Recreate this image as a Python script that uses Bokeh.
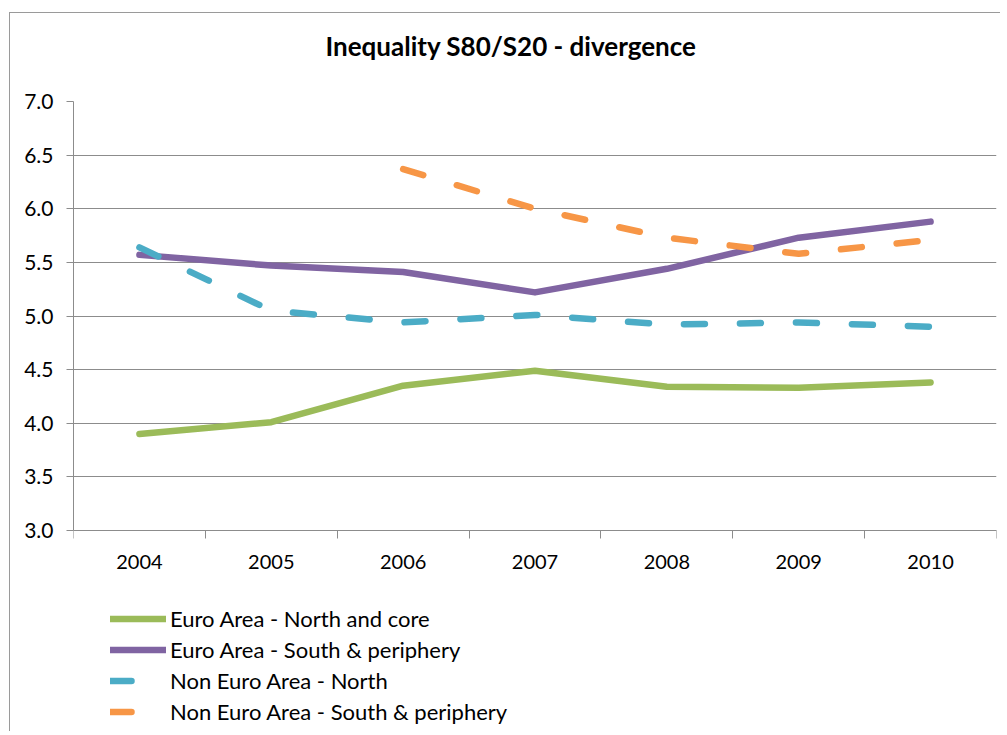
from bokeh.plotting import figure
from bokeh.models import FixedTicker, Legend, LegendItem, NumeralTickFormatter, Range1d, Title
from bokeh.embed import file_html
from bokeh.resources import INLINE

years = [2004, 2005, 2006, 2007, 2008, 2009, 2010]
north_core = [3.90, 4.01, 4.35, 4.49, 4.34, 4.33, 4.38]
south_periph = [5.57, 5.47, 5.41, 5.22, 5.44, 5.73, 5.88]
non_euro_north = [5.64, 5.05, 4.94, 5.01, 4.92, 4.94, 4.90]
non_euro_south_years = [2006, 2007, 2008, 2009, 2010]
non_euro_south = [6.37, 6.00, 5.73, 5.58, 5.71]
y_ticks = [3.0, 3.5, 4.0, 4.5, 5.0, 5.5, 6.0, 6.5, 7.0]
labels = ["Euro Area - North and core", "Euro Area - South & periphery",
          "Non Euro Area - North", "Non Euro Area - South & periphery"]

FONT = "Lato"
# layout: plotting band (3.0..7.0) is 429 px tall; the frame continues below it to hold the legend
FRAME_W, FRAME_H, BAND_H = 923, 627, 429
y_lo, y_hi = y_ticks[0], y_ticks[-1]
y_start = y_hi - FRAME_H * (y_hi - y_lo) / BAND_H

p = figure(width=990, height=718, frame_width=FRAME_W, frame_height=FRAME_H,
           output_backend="svg", toolbar_location=None,
           x_range=Range1d(years[0] - 0.5, years[-1] + 0.5), y_range=Range1d(y_start, y_hi),
           min_border_left=63, min_border_right=4, min_border_top=88, min_border_bottom=3)
p.styles = {"margin-left": "9px", "margin-top": "12px",
            "border-left": "1.5px solid #9a9a9a", "border-top": "1.5px solid #9a9a9a"}
p.outline_line_color = None

# empty spacer between the frame and the chart title
p.add_layout(Title(text=" ", text_font_size="1px", standoff=32), "above")

p.title.text = "Inequality S80/S20 - divergence"
p.title.align = "left"
p.title.offset = 252
p.title.text_font = FONT
p.title.text_font_size = "26px"
p.title.text_font_style = "bold"
p.title.text_color = "#000000"
p.title.standoff = 10

p.xaxis.fixed_location = y_lo
p.xaxis.ticker = FixedTicker(ticks=years, minor_ticks=[y - 0.5 for y in years] + [years[-1] + 0.5])
p.xaxis.major_tick_line_color = None
p.xaxis.minor_tick_in = 0
p.xaxis.minor_tick_out = 8
p.xaxis.minor_tick_line_color = "#8c8c8c"
p.xaxis.axis_line_color = "#8c8c8c"
p.xaxis.major_label_text_font = FONT
p.xaxis.major_label_text_font_size = "20px"
p.xaxis.major_label_text_color = "#000000"
p.xaxis.major_label_standoff = 16

p.yaxis.bounds = (y_lo, y_hi)
p.yaxis.ticker = FixedTicker(ticks=y_ticks, minor_ticks=[])
p.yaxis.formatter = NumeralTickFormatter(format="0.0")
p.yaxis.major_tick_in = 0
p.yaxis.major_tick_out = 7
p.yaxis.major_tick_line_color = "#8c8c8c"
p.yaxis.axis_line_color = "#8c8c8c"
p.yaxis.major_label_text_font = FONT
p.yaxis.major_label_text_font_size = "21px"
p.yaxis.major_label_text_color = "#000000"
p.yaxis.major_label_standoff = 13

p.xgrid.grid_line_color = None
p.ygrid.grid_line_color = "#8c8c8c"
p.ygrid.grid_line_width = 1

LW = 6.5
r1 = p.line(years, north_core, line_color="#9BBB59", line_width=LW, line_cap="round", line_join="round")
r2 = p.line(years, south_periph, line_color="#8064A2", line_width=LW, line_cap="round", line_join="round")
r3 = p.line(years, non_euro_north, line_color="#4BACC6", line_width=LW, line_cap="round", line_dash="21 35")
r4 = p.line(non_euro_south_years, non_euro_south, line_color="#F79646", line_width=LW, line_cap="round", line_dash="21 35")

legend = Legend(items=[LegendItem(label=t, renderers=[r]) for t, r in zip(labels, [r1, r2, r3, r4])],
                location=(37, 3), orientation="vertical")
legend.border_line_color = None
legend.background_fill_alpha = 0
legend.label_text_font = FONT
legend.label_text_font_size = "22px"
legend.label_text_color = "#000000"
legend.glyph_width = 56
legend.glyph_height = 21
legend.label_height = 21
legend.spacing = 4
legend.label_standoff = 4
legend.padding = 0
legend.margin = 0
p.add_layout(legend, "center")

open("out.html", "w").write(file_html(p, INLINE))
